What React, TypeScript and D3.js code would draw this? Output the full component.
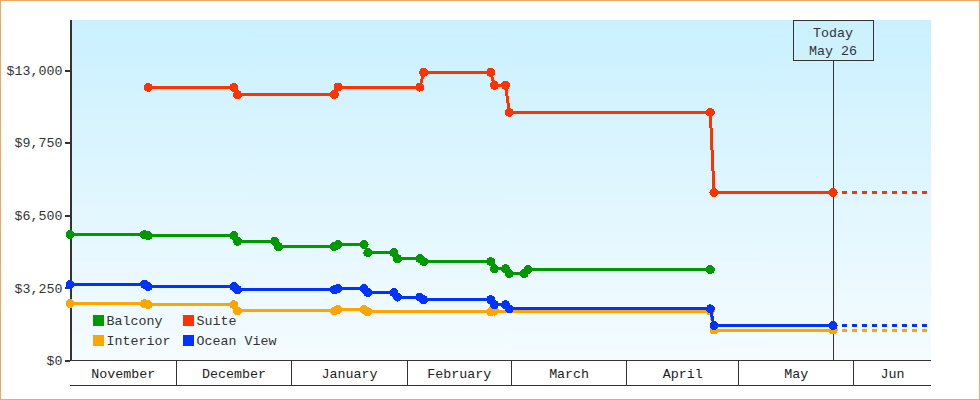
import { useEffect, useRef } from 'react';

import * as d3 from 'd3';

const width = 980;
const height = 400;
const [plotLeft, plotRight, plotTop, plotBottom] = [70, 931, 20, 360.5];
const fontFamily = '"Liberation Mono", monospace';
const fontSize = '13.33px';

const yMax = 15241;
const yTicks = [0, 3250, 6500, 9750, 13000];

const domainStart = 'Nov 2 2013';
const domainEnd = 'Jun 21 2014';
const today = 'May 26 2014';

const monthStarts = ['Dec 1 2013', 'Jan 1 2014', 'Feb 1 2014', 'Mar 1 2014', 'Apr 1 2014', 'May 1 2014', 'Jun 1 2014'];
const monthLabels = ['November', 'December', 'January', 'February', 'March', 'April', 'May', 'Jun'];

const balconyDates = ['Nov 2 2013', 'Nov 22 2013', 'Nov 23 2013', 'Dec 16 2013', 'Dec 17 2013', 'Dec 27 2013', 'Dec 28 2013', 'Jan 12 2014', 'Jan 13 2014', 'Jan 20 2014', 'Jan 21 2014', 'Jan 28 2014', 'Jan 29 2014', 'Feb 4 2014', 'Feb 5 2014', 'Feb 23 2014', 'Feb 24 2014', 'Feb 27 2014', 'Feb 28 2014', 'Mar 4 2014', 'Mar 5 2014', 'Apr 23 2014'];
const balconyValues = [5660, 5660, 5610, 5610, 5360, 5360, 5120, 5120, 5210, 5210, 4850, 4850, 4580, 4580, 4450, 4450, 4130, 4130, 3910, 3910, 4090, 4090];

const suiteDates = ['Nov 23 2013', 'Dec 16 2013', 'Dec 17 2013', 'Jan 12 2014', 'Jan 13 2014', 'Feb 4 2014', 'Feb 5 2014', 'Feb 23 2014', 'Feb 24 2014', 'Feb 27 2014', 'Feb 28 2014', 'Apr 23 2014', 'Apr 24 2014', 'May 26 2014'];
const suiteValues = [12250, 12250, 11925, 11925, 12260, 12260, 12920, 12920, 12340, 12340, 11130, 11130, 7540, 7540];

const interiorDates = ['Nov 2 2013', 'Nov 22 2013', 'Nov 23 2013', 'Dec 16 2013', 'Dec 17 2013', 'Jan 12 2014', 'Jan 13 2014', 'Jan 20 2014', 'Jan 21 2014', 'Feb 23 2014', 'Feb 24 2014', 'Apr 23 2014', 'Apr 24 2014', 'May 26 2014'];
const interiorValues = [2565, 2565, 2520, 2520, 2240, 2240, 2310, 2310, 2205, 2205, 2235, 2235, 1385, 1385];

const oceanDates = ['Nov 2 2013', 'Nov 22 2013', 'Nov 23 2013', 'Dec 16 2013', 'Dec 17 2013', 'Jan 12 2014', 'Jan 13 2014', 'Jan 20 2014', 'Jan 21 2014', 'Jan 28 2014', 'Jan 29 2014', 'Feb 4 2014', 'Feb 5 2014', 'Feb 23 2014', 'Feb 24 2014', 'Feb 27 2014', 'Feb 28 2014', 'Apr 23 2014', 'Apr 24 2014', 'May 26 2014'];
const oceanValues = [3430, 3430, 3330, 3330, 3190, 3190, 3240, 3240, 3060, 3060, 2860, 2860, 2745, 2745, 2520, 2520, 2335, 2335, 1580, 1580];

type Point = { date: Date; value: number };

// every sample was taken at the same hour of the day
const parseDate = (s: string) => d3.utcParse('%b %e %Y %H')(`${s} 10`) as Date;
const parseMonth = (s: string) => d3.utcParse('%b %e %Y')(s) as Date;
const toPoints = (dates: string[], values: number[]): Point[] =>
    dates.map((d, i) => ({ date: parseDate(d), value: values[i] }));

const series = [
    { name: 'Balcony', color: '#009900', points: toPoints(balconyDates, balconyValues) },
    { name: 'Suite', color: '#ff3300', points: toPoints(suiteDates, suiteValues) },
    { name: 'Interior', color: '#ffa500', points: toPoints(interiorDates, interiorValues) },
    { name: 'Ocean View', color: '#0033ff', points: toPoints(oceanDates, oceanValues) }
];

export default function App() {
    const chart = useRef<SVGSVGElement>(null);

    useEffect(() => {
        const svg = d3.select(chart.current);
        svg.selectAll('*').remove();

        const axisEnd = d3.utcHour.offset(parseDate(domainEnd), 7);
        const x = d3.scaleUtc().domain([parseDate(domainStart), axisEnd]).range([plotLeft, plotRight]);
        const y = d3.scaleLinear().domain([0, yMax]).range([plotBottom, plotTop]);
        const todayX = Math.floor(x(parseDate(today))) + 0.5;

        const gradient = svg
            .append('defs')
            .append('linearGradient')
            .attr('id', 'plot-bg')
            .attr('x1', 0)
            .attr('x2', 0)
            .attr('y1', 0)
            .attr('y2', 1);
        gradient.append('stop').attr('offset', '0%').attr('stop-color', '#caf0ff');
        gradient.append('stop').attr('offset', '100%').attr('stop-color', '#f5fcff');

        // frame
        svg.append('rect')
            .attr('x', 0.5)
            .attr('y', 0.5)
            .attr('width', width - 1)
            .attr('height', height - 1)
            .attr('fill', '#ffffff')
            .attr('stroke', '#eaaa66');

        svg.append('rect')
            .attr('x', plotLeft)
            .attr('y', plotTop)
            .attr('width', plotRight - plotLeft)
            .attr('height', plotBottom - plotTop)
            .attr('fill', 'url(#plot-bg)');

        // y axis
        const yAxis = svg
            .append('g')
            .attr('transform', `translate(${plotLeft}, 0)`)
            .call(
                d3
                    .axisLeft(y)
                    .tickValues(yTicks)
                    .tickSize(5)
                    .tickPadding(2.5)
                    .tickFormat((d) => `$${d3.format(',')(d as number)}`)
            );
        yAxis.select('.domain').remove();
        yAxis.selectAll('line').attr('stroke', '#333333').attr('stroke-width', 2).attr('shape-rendering', 'crispEdges');
        yAxis.selectAll('text').attr('fill', '#333333').style('font-family', fontFamily).style('font-size', fontSize);
        svg.append('rect')
            .attr('x', plotLeft)
            .attr('y', plotTop)
            .attr('width', 2)
            .attr('height', plotBottom - plotTop)
            .attr('fill', '#333333');

        // month bands under the plot
        const bandBottom = 385;
        const edges = [parseDate(domainStart), ...monthStarts.map(parseMonth), axisEnd];
        const months = svg.append('g').attr('shape-rendering', 'crispEdges');
        [plotBottom, bandBottom + 0.5].forEach((ly) => {
            months.append('line').attr('x1', plotLeft).attr('x2', plotRight).attr('y1', ly).attr('y2', ly).attr('stroke', '#333333');
        });
        months
            .selectAll('line.sep')
            .data(monthStarts.map(parseMonth))
            .join('line')
            .attr('class', 'sep')
            .attr('x1', (d) => x(d))
            .attr('x2', (d) => x(d))
            .attr('y1', plotBottom)
            .attr('y2', bandBottom)
            .attr('stroke', '#333333');
        svg.append('g')
            .selectAll('text')
            .data(monthLabels)
            .join('text')
            .attr('x', (_d, i) => (x(edges[i]) + x(edges[i + 1])) / 2)
            .attr('y', 378)
            .attr('text-anchor', 'middle')
            .attr('fill', '#222222')
            .style('font-family', fontFamily)
            .style('font-size', fontSize)
            .text((d) => d);

        // today marker
        const marker = svg.append('g');
        marker
            .append('line')
            .attr('x1', todayX)
            .attr('x2', todayX)
            .attr('y1', 60)
            .attr('y2', plotBottom)
            .attr('stroke', '#333333');
        marker
            .append('rect')
            .attr('x', 793.5)
            .attr('y', 20.5)
            .attr('width', 80)
            .attr('height', 40)
            .attr('fill', 'none')
            .attr('stroke', '#333333')
            .attr('shape-rendering', 'crispEdges');
        ['Today', today.replace(/ \d{4}$/, '')].forEach((label, i) => {
            marker
                .append('text')
                .attr('x', 833)
                .attr('y', 37 + i * 18)
                .attr('text-anchor', 'middle')
                .attr('fill', '#333333')
                .style('font-family', fontFamily)
                .style('font-size', fontSize)
                .text(label);
        });

        // series
        const line = d3
            .line<Point>()
            .x((d) => x(d.date))
            .y((d) => y(d.value));

        series.forEach((s) => {
            const g = svg.append('g').attr('transform', 'translate(0, 0.5)');
            g.append('path')
                .attr('d', line(s.points))
                .attr('fill', 'none')
                .attr('stroke', s.color)
                .attr('stroke-width', 3)
                .attr('shape-rendering', 'crispEdges');

            const last = s.points[s.points.length - 1];
            if (+last.date === +parseDate(today)) {
                g.append('path')
                    .attr('d', line([last, { date: parseDate(domainEnd), value: last.value }]))
                    .attr('fill', 'none')
                    .attr('stroke', s.color)
                    .attr('stroke-width', 3)
                    .attr('stroke-dasharray', '5 5')
                    .attr('stroke-dashoffset', 0.7)
                    .attr('shape-rendering', 'crispEdges');
            }

            g.selectAll('circle')
                .data(s.points)
                .join('circle')
                .attr('cx', (d) => x(d.date))
                .attr('cy', (d) => y(d.value))
                .attr('r', 4.5)
                .attr('fill', s.color)
                .attr('shape-rendering', 'crispEdges');
        });

        // legend
        const legendX = [93, 183];
        const legendY = [315, 335];
        const legend = svg.append('g');
        series.forEach((s, i) => {
            const cx = legendX[i % 2];
            const cy = legendY[Math.floor(i / 2)];
            legend.append('rect').attr('x', cx).attr('y', cy).attr('width', 11).attr('height', 11).attr('fill', s.color);
            legend
                .append('text')
                .attr('x', cx + 13.5)
                .attr('y', cy + 10)
                .attr('fill', '#333333')
                .style('font-family', fontFamily)
                .style('font-size', fontSize)
                .text(s.name);
        });
    }, []);

    return <svg ref={chart} width={width} height={height} style={{ position: 'absolute', left: 0, top: 0 }} />;
}
